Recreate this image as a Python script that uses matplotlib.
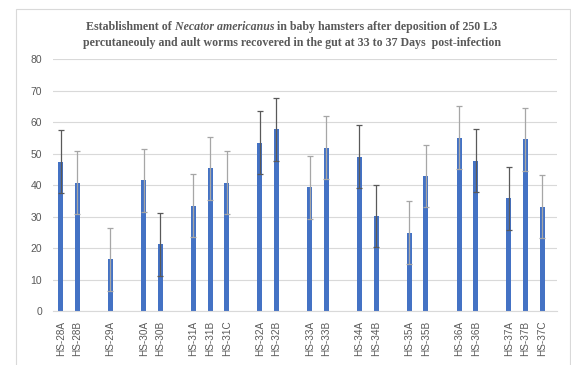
import numpy as np
import matplotlib.pyplot as plt
from matplotlib.patches import Rectangle

# hamster ids, with '' marking the spacer slots between days
labels = ['HS-28A', 'HS-28B', '', 'HS-29A', '', 'HS-30A', 'HS-30B', '',
          'HS-31A', 'HS-31B', 'HS-31C', '', 'HS-32A', 'HS-32B', '',
          'HS-33A', 'HS-33B', '', 'HS-34A', 'HS-34B', '', 'HS-35A', 'HS-35B', '',
          'HS-36A', 'HS-36B', '', 'HS-37A', 'HS-37B', 'HS-37C']
worms = [47.5, 40.8, None, 16.4, None, 41.6, 21.2, None,
         33.5, 45.3, 40.8, None, 53.5, 57.8, None,
         39.3, 51.9, None, 49.1, 30.2, None, 24.9, 42.9, None,
         55.1, 47.7, None, 35.8, 54.6, 33.2]
err = 10
dark_err = ['HS-28A', 'HS-30B', 'HS-32A', 'HS-32B', 'HS-34A', 'HS-34B', 'HS-36B', 'HS-37A']

BLUE = '#4472C4'
GRID = '#d9d9d9'
TXT = '#595959'

W, H = 571, 365
fig = plt.figure(figsize=(W/100, H/100), dpi=100)
ax = fig.add_axes([53/W, 1-311/H, (557-53)/W, (311-59.3)/H])

x = np.arange(len(labels))
for i, (lab, v) in enumerate(zip(labels, worms)):
    if v is None:
        continue
    ax.bar(i, v, width=0.3, color=BLUE, zorder=2)
    ec = '#595959' if lab in dark_err else '#a6a6a6'
    ax.errorbar(i, v, yerr=err, fmt='none', ecolor=ec, elinewidth=0.9,
                capsize=2.5, capthick=0.9, zorder=3)

ax.set_xlim(-0.46, 29.9)
ax.set_ylim(0, 80)
ax.set_yticks(range(0, 81, 10))
ax.set_xticks(x)
ax.set_xticklabels(labels, rotation=90, fontsize=7.2, color=TXT, family='Liberation Sans')
ax.tick_params(axis='y', labelsize=7.5, labelcolor=TXT, length=0, pad=8)
ax.tick_params(axis='x', length=0, pad=7)
for lbl in ax.get_yticklabels():
    lbl.set_family('Liberation Sans')
ax.grid(axis='y', color=GRID, lw=0.8, zorder=0)
ax.set_axisbelow(True)
for s in ['top', 'right', 'left']:
    ax.spines[s].set_visible(False)
ax.spines['bottom'].set_color(GRID)

# chart frame
fig.patches.append(Rectangle((16/W, -0.02), (569.5-16)/W, 1.02-9/H,
                             transform=fig.transFigure, fill=False,
                             edgecolor=GRID, lw=0.8))

# two-line title with the species name in bold italic
fig.canvas.draw()
r = fig.canvas.get_renderer()
fs = 8.6
tkw = dict(fontsize=fs, fontweight='bold', color=TXT, family='Liberation Serif', va='baseline')

def text_line(parts, ybase, cx=292/W):
    objs = [fig.text(0, ybase, s, style=st, **tkw) for s, st in parts]
    widths = [o.get_window_extent(r).width for o in objs]
    xpos = cx*W - sum(widths)/2
    for o, w in zip(objs, widths):
        o.set_x(xpos/W)
        xpos += w

text_line([('Establishment of', 'normal'), (' Necator americanus', 'italic'),
           (' in baby hamsters after deposition of 250 L3', 'normal')], 1-30/H)
text_line([('percutaneouly and ault worms recovered in the gut at 33 to 37 Days  post-infection', 'normal')], 1-46/H)

fig.savefig('out.png', dpi=100)
